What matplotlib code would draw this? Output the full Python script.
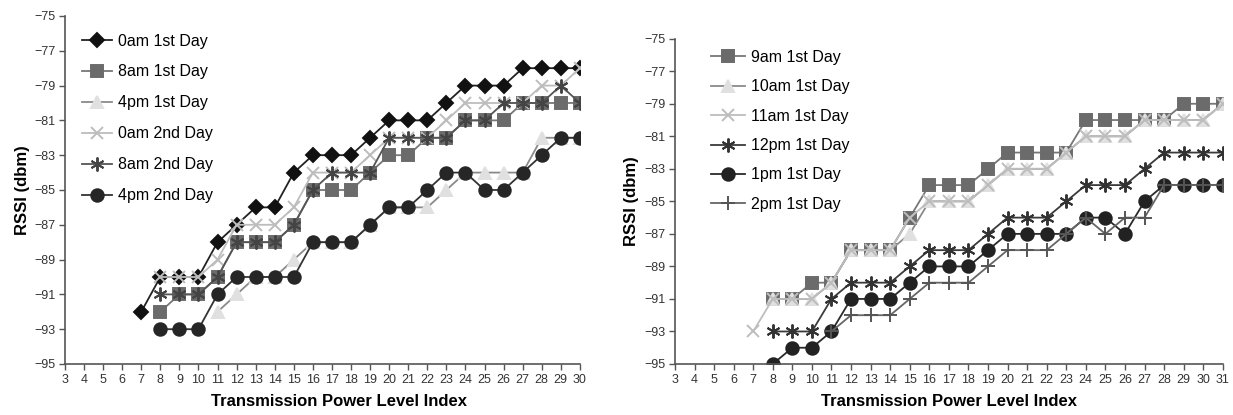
import matplotlib
matplotlib.use("Agg")
import matplotlib.pyplot as plt

plt.rcParams["font.family"] = ["Liberation Sans", "DejaVu Sans"]

# left chart data (x = transmission power level index)
x_left = list(range(7, 31))
am0_day1 = [-92, -90, -90, -90, -88, -87, -86, -86, -84, -83, -83, -83,
            -82, -81, -81, -81, -80, -79, -79, -79, -78, -78, -78, -78]
x_left8 = list(range(8, 31))
am8_day1 = [-92, -91, -91, -90, -88, -88, -88, -87, -85, -85, -85, -84,
            -83, -83, -82, -82, -81, -81, -81, -80, -80, -80, -80]
x_left11 = list(range(11, 31))
pm4_day1 = [-92, -91, -90, -90, -89, -88, -88, -88, -87, -86, -86, -86,
            -85, -84, -84, -84, -84, -82, -82, -82]
am0_day2 = [-90, -90, -90, -89, -87, -87, -87, -86, -84, -84, -84, -83,
            -82, -82, -82, -81, -80, -80, -80, -80, -79, -79, -78]
am8_day2 = [-91, -91, -91, -90, -88, -88, -88, -87, -85, -84, -84, -84,
            -82, -82, -82, -82, -81, -81, -80, -80, -80, -79, -80]
pm4_day2 = [-93, -93, -93, -91, -90, -90, -90, -90, -88, -88, -88, -87,
            -86, -86, -85, -84, -84, -85, -85, -84, -83, -82, -82]

# right chart data
x_r7 = list(range(7, 32))
x_r8 = list(range(8, 32))
x_r11 = list(range(11, 32))
am9 = [-91, -91, -90, -90, -88, -88, -88, -86, -84, -84, -84, -83,
       -82, -82, -82, -82, -80, -80, -80, -80, -80, -79, -79, -79]
am10 = [-91, -91, -91, -90, -88, -88, -88, -87, -85, -85, -85, -84,
        -83, -83, -83, -82, -81, -81, -81, -80, -80, -80, -80, -79]
am11 = [-93, -91, -91, -91, -90, -88, -88, -88, -86, -85, -85, -85, -84,
        -83, -83, -83, -82, -81, -81, -81, -80, -80, -80, -80, -79]
pm12 = [-93, -93, -93, -91, -90, -90, -90, -89, -88, -88, -88, -87,
        -86, -86, -86, -85, -84, -84, -84, -83, -82, -82, -82, -82]
pm1 = [-95, -94, -94, -93, -91, -91, -91, -90, -89, -89, -89, -88,
       -87, -87, -87, -87, -86, -86, -87, -85, -84, -84, -84, -84]
pm2 = [-93, -92, -92, -92, -91, -90, -90, -90, -89, -88, -88, -88,
       -87, -86, -87, -86, -86, -84, -84, -84, -84]

asterisk = (6, 2, 0)

fig = plt.figure(figsize=(12.33, 4.15), dpi=100)
ax1 = fig.add_axes([0.0527, 0.1229, 0.4176, 0.8386])
ax2 = fig.add_axes([0.5474, 0.1229, 0.4443, 0.7838])

left_series = [
    (x_left, am0_day1, "0am 1st Day", "D", "#111111", "#222222", 7),
    (x_left8, am8_day1, "8am 1st Day", "s", "#6b6b6b", "#777777", 8),
    (x_left11, pm4_day1, "4pm 1st Day", "^", "#e0e0e0", "#8a8a8a", 8),
    (x_left8, am0_day2, "0am 2nd Day", "x", "#bdbdbd", "#bdbdbd", 9),
    (x_left8, am8_day2, "8am 2nd Day", asterisk, "#444444", "#555555", 10),
    (x_left8, pm4_day2, "4pm 2nd Day", "o", "#262626", "#333333", 9),
]
right_series = [
    (x_r8, am9, "9am 1st Day", "s", "#6b6b6b", "#777777", 8),
    (x_r8, am10, "10am 1st Day", "^", "#e0e0e0", "#8a8a8a", 8),
    (x_r7, am11, "11am 1st Day", "x", "#bdbdbd", "#bdbdbd", 9),
    (x_r8, pm12, "12pm 1st Day", asterisk, "#333333", "#3a3a3a", 10),
    (x_r8, pm1, "1pm 1st Day", "o", "#222222", "#2a2a2a", 9),
    (x_r11, pm2, "2pm 1st Day", "+", "#555555", "#666666", 10),
]


def draw(ax, series, xmax, legend_anchor, spacing, hlen):
    for xs, ys, label, mk, mc, lc, ms in series:
        ax.plot(xs, ys, color=lc, lw=1.3, marker=mk, ms=ms,
                markerfacecolor=mc, markeredgecolor=mc, markeredgewidth=1.4,
                label=label)
    ax.set_xlim(3, xmax)
    ax.set_ylim(-95, -75)
    ax.set_xticks(range(3, xmax + 1))
    ax.set_yticks(range(-95, -74, 2))
    for s in ["top", "right"]:
        ax.spines[s].set_visible(False)
    for s in ["left", "bottom"]:
        ax.spines[s].set_color("#555555")
        ax.spines[s].set_linewidth(1.2)
    ax.tick_params(length=4, width=1, color="#555555", labelsize=9,
                   labelcolor="#333333", pad=3)
    ax.set_xlabel("Transmission Power Level Index", fontsize=12,
                  fontweight="bold")
    ax.set_ylabel("RSSI (dbm)", fontsize=12, fontweight="bold")
    ax.legend(loc="upper left", bbox_to_anchor=legend_anchor, frameon=False,
              fontsize=11.5, handlelength=hlen, handletextpad=0.35,
              labelspacing=spacing, borderaxespad=0)


draw(ax1, left_series, 30, (0.02, 0.968), 1.0, 1.9)
draw(ax2, right_series, 31, (0.055, 0.985), 0.9, 2.1)

ax1.xaxis.set_label_coords(0.532, -0.085)
ax2.xaxis.set_label_coords(0.5, -0.092)
ax1.yaxis.set_label_coords(-0.068, 0.5)
ax2.yaxis.set_label_coords(-0.066, 0.5)

fig.savefig("out.png", dpi=100)
